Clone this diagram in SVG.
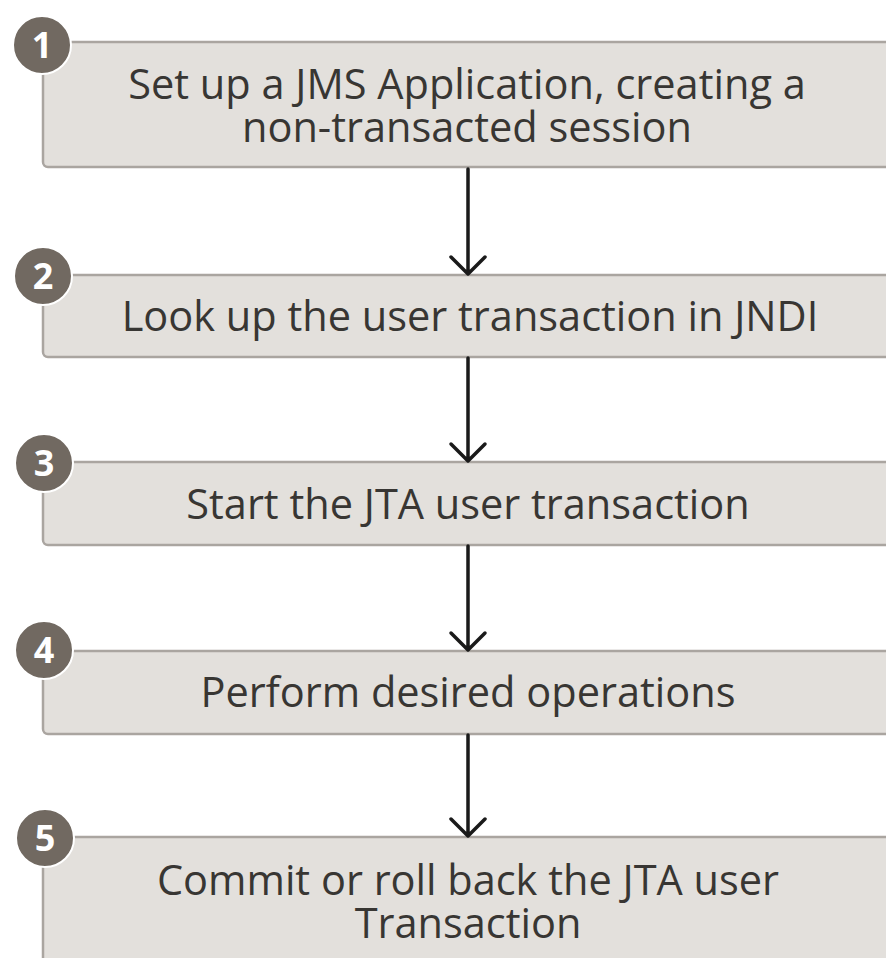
<svg xmlns="http://www.w3.org/2000/svg" width="886" height="958" viewBox="0 0 886 958">
<style>
.box{fill:#e3e0dc;stroke:#aaa5a0;stroke-width:2.5}
.badge{fill:#716961;stroke:#ffffff;stroke-width:2}
.num{font-family:"Open Sans","Liberation Sans",sans-serif;font-weight:700;font-size:36px;fill:#ffffff;text-anchor:middle}
.lbl{font-family:"Open Sans","Liberation Sans",sans-serif;font-size:41.5px;fill:#383633;text-anchor:middle}
.conn{stroke:#1a1a1a;stroke-width:3.5;fill:none;stroke-linecap:round;stroke-linejoin:round}
</style>
<rect width="886" height="958" fill="#ffffff"/>
<g id="node1">
<rect class="box" x="43" y="42" width="870" height="125" rx="5"/>
<circle class="badge" cx="42" cy="45" r="29"/>
<text class="num" x="42" y="58">1</text>
<text class="lbl" x="467" y="99">Set up a JMS Application, creating a</text>
<text class="lbl" x="467" y="142">non-transacted session</text>
</g>
<g id="node2">
<rect class="box" x="43" y="275" width="870" height="82" rx="5"/>
<circle class="badge" cx="43" cy="276" r="29"/>
<text class="num" x="43" y="289">2</text>
<text class="lbl" x="470" y="331">Look up the user transaction in JNDI</text>
</g>
<g id="node3">
<rect class="box" x="43" y="462" width="870" height="83" rx="5"/>
<circle class="badge" cx="44" cy="463" r="29"/>
<text class="num" x="44" y="476">3</text>
<text class="lbl" x="468" y="519">Start the JTA user transaction</text>
</g>
<g id="node4">
<rect class="box" x="43" y="651" width="870" height="83" rx="5"/>
<circle class="badge" cx="44" cy="650" r="29"/>
<text class="num" x="44" y="663">4</text>
<text class="lbl" x="468" y="707">Perform desired operations</text>
</g>
<g id="node5">
<rect class="box" x="43" y="837" width="870" height="140" rx="5"/>
<circle class="badge" cx="45" cy="838" r="29"/>
<text class="num" x="45" y="851">5</text>
<text class="lbl" x="468" y="895">Commit or roll back the JTA user</text>
<text class="lbl" x="468" y="938">Transaction</text>
</g>
<g id="connectors">
<path class="conn" d="M468 169 V274 M451 257 L468 274 L485 257"/>
<path class="conn" d="M468 358 V461 M451 444 L468 461 L485 444"/>
<path class="conn" d="M468 546 V650 M451 633 L468 650 L485 633"/>
<path class="conn" d="M468 735 V836 M451 819 L468 836 L485 819"/>
</g>
</svg>
